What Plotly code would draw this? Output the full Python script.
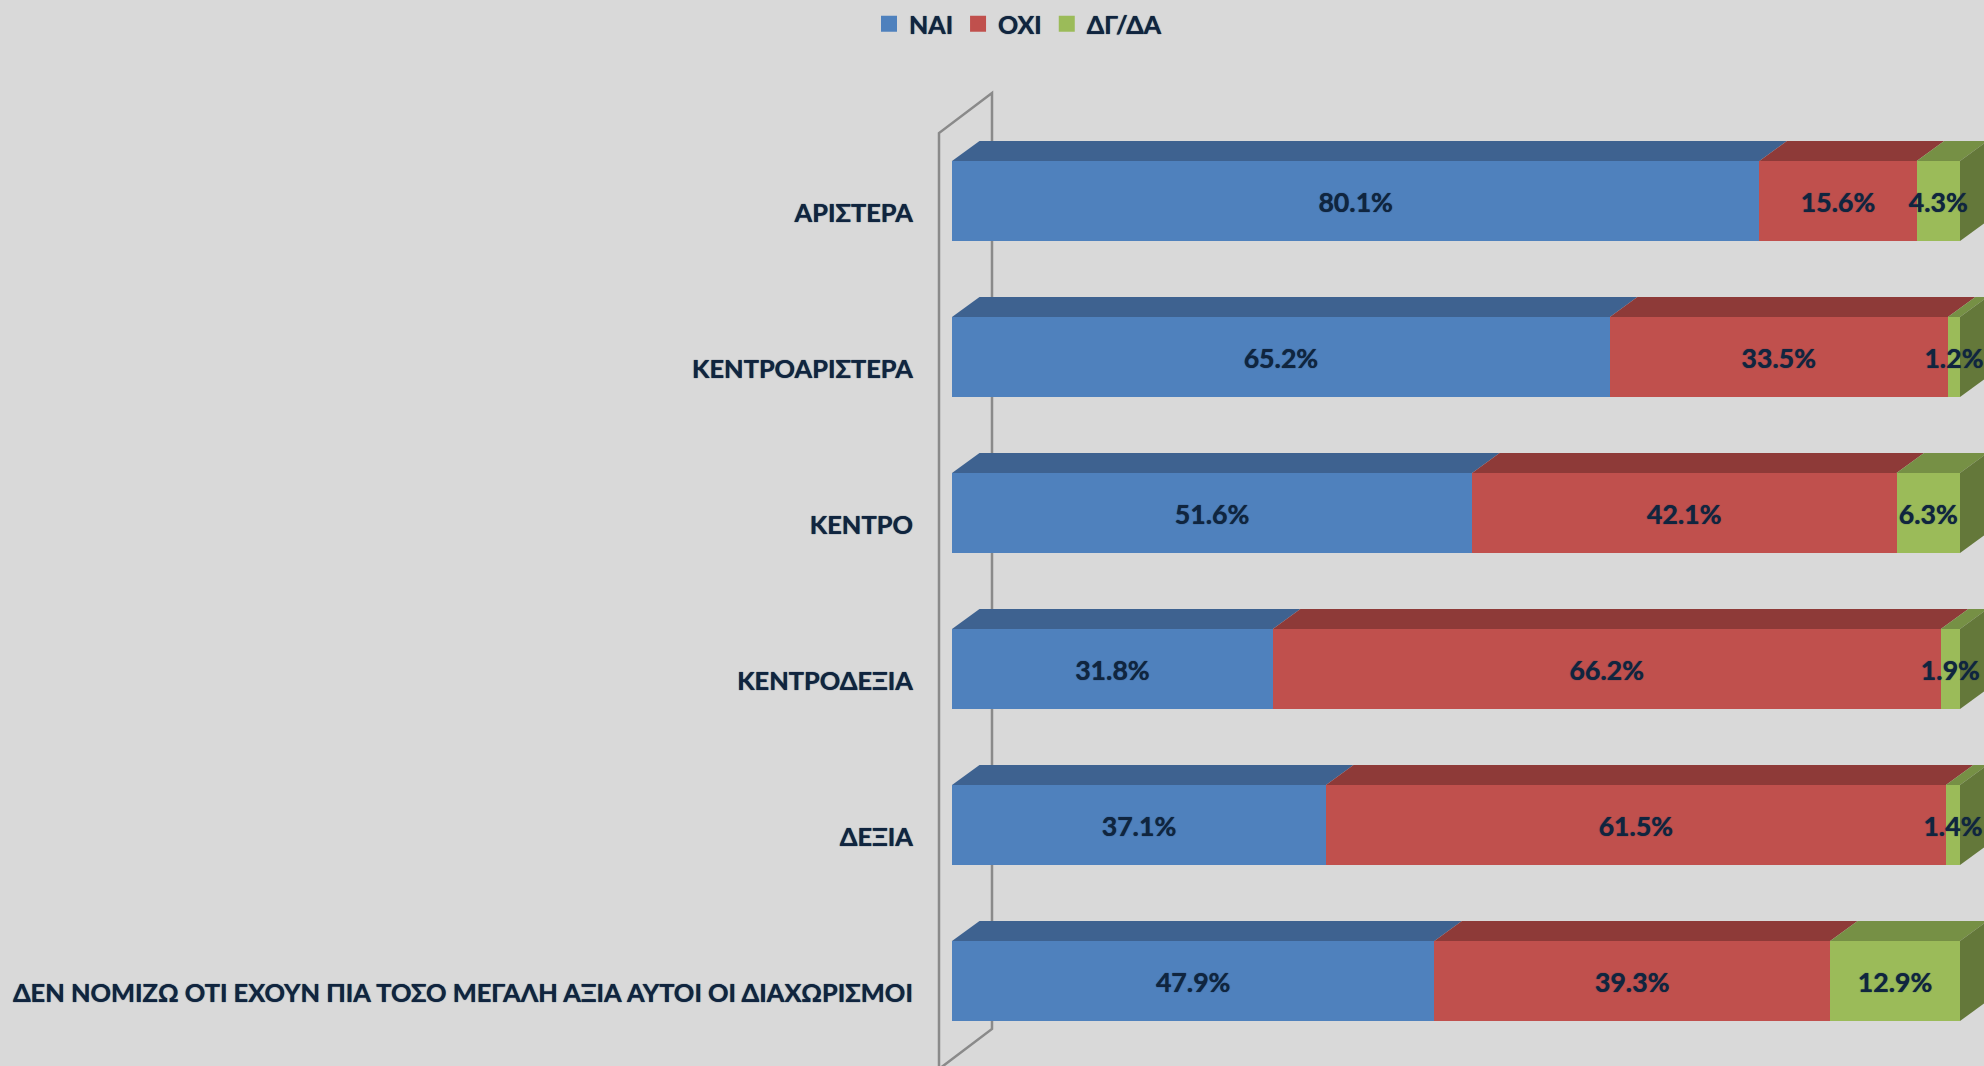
import plotly.graph_objects as go

categories = ["ΑΡΙΣΤΕΡΑ", "ΚΕΝΤΡΟΑΡΙΣΤΕΡΑ", "ΚΕΝΤΡΟ", "ΚΕΝΤΡΟΔΕΞΙΑ", "ΔΕΞΙΑ",
              "ΔΕΝ ΝΟΜΙΖΩ ΟΤΙ ΕΧΟΥΝ ΠΙΑ ΤΟΣΟ ΜΕΓΑΛΗ ΑΞΙΑ ΑΥΤΟΙ ΟΙ ΔΙΑΧΩΡΙΣΜΟΙ"]
nai = [80.1, 65.2, 51.6, 31.8, 37.1, 47.9]
oxi = [15.6, 33.5, 42.1, 66.2, 61.5, 39.3]
dgda = [4.3, 1.2, 6.3, 1.9, 1.4, 12.9]
series = [("ΝΑΙ", nai, "#4F81BD", "#3E6290"), ("ΟΧΙ", oxi, "#C0504D", "#8E3A38"),
          ("ΔΓ/ΔΑ", dgda, "#9BBB59", "#769045")]
side_colour = "#64783A"
ink = "#10253F"
bg = "#D9D9D9"
FONT = "Lato, 'Noto Sans', sans-serif"
GLOW = "0 0 1px #10253F"

W, H = 1984, 1066
PX_L, PX_R = 952, 1960       # 0 and 100 on the value axis
PITCH, FIRST = 156, 201      # category spacing and first centre
BAR = 80 / PITCH
DX, DY = 27.5 * 100 / (PX_R - PX_L), 20 / PITCH
L_EDGE = 930
xr = [(L_EDGE - PX_L) * 100 / (PX_R - PX_L), (W - PX_L) * 100 / (PX_R - PX_L)]
yr = [(H - FIRST) / PITCH, -FIRST / PITCH]
ypos = list(range(len(categories)))
totals = [a + b + c for a, b, c in zip(nai, oxi, dgda)]
LABEL_DROP = 4 / PITCH
TICK_DROP = 12 / PITCH

fig = go.Figure()
for name, vals, col, _ in series:
    fig.add_bar(y=ypos, x=vals, orientation="h", name=name, marker=dict(color=col, line=dict(width=0)),
                width=BAR, showlegend=False, hoverinfo="skip")

# top faces and end faces, worked out from the same values
cum = [0.0] * len(categories)
tx, ty, tt = [], [], []
for name, vals, col, dark in series:
    for i, v in enumerate(vals):
        x0 = cum[i]
        x1 = cum[i] + v * 100 / totals[i]
        top = i - BAR / 2
        fig.add_scatter(x=[x0, x1, x1 + DX, x0 + DX, x0], y=[top, top, top - DY, top - DY, top],
                        mode="lines", fill="toself", fillcolor=dark, line=dict(width=0),
                        showlegend=False, hoverinfo="skip")
        tx.append((x0 + x1) / 2)
        ty.append(i + LABEL_DROP)
        tt.append(f"{v:.1f}%")
        cum[i] = x1
for i in ypos:
    top, bot = i - BAR / 2, i + BAR / 2
    fig.add_scatter(x=[100, 100 + DX, 100 + DX, 100, 100], y=[top, top - DY, bot - DY, bot, top],
                    mode="lines", fill="toself", fillcolor=side_colour, line=dict(width=0),
                    showlegend=False, hoverinfo="skip")

fig.add_scatter(x=tx, y=ty, text=tt, mode="text", textposition="middle center",
                textfont=dict(family=FONT, size=26.67, color=ink, weight="bold", shadow=GLOW),
                showlegend=False, hoverinfo="skip", cliponaxis=False)

for name, vals, col, _ in series:
    fig.add_scatter(x=[None], y=[None], mode="markers", name=name,
                    marker=dict(symbol="square", size=17, color=col))

to_x = lambda p: (p - PX_L) * 100 / (PX_R - PX_L)
to_y = lambda p: (p - FIRST) / PITCH
wall_pts = [(939, 1069), (939, 133), (992, 93), (992, 1029), (939, 1069)]
path = "M " + " L ".join(f"{to_x(a):.3f} {to_y(b):.4f}" for a, b in wall_pts)
fig.add_shape(type="path", path=path, xref="x", yref="y", layer="below",
              line=dict(color="#8A8A8A", width=2.5))

fig.update_layout(
    width=W, height=H, autosize=False, barmode="stack", barnorm="percent",
    paper_bgcolor=bg, plot_bgcolor=bg,
    margin=dict(l=L_EDGE, r=0, t=0, b=0),
    font=dict(family=FONT, color=ink, size=25.4, weight="bold"),
    legend=dict(orientation="h", x=(869 - L_EDGE) / (W - L_EDGE), xanchor="left", y=1 - 1 / H, yanchor="top",
                traceorder="normal",
                font=dict(family=FONT, size=25, color=ink, weight="bold", shadow=GLOW),
                itemsizing="trace", itemclick=False, itemdoubleclick=False,
                bgcolor="rgba(0,0,0,0)"),
    xaxis=dict(range=xr, visible=False, fixedrange=True),
    yaxis=dict(range=yr, tickvals=[p + TICK_DROP for p in ypos], ticktext=categories, ticks="outside", ticklen=11,
               tickcolor="rgba(0,0,0,0)", showline=False, showgrid=False, zeroline=False,
               tickfont=dict(family=FONT, size=25.4, color=ink, weight="bold", shadow=GLOW), fixedrange=True),
    showlegend=True,
)
fig.write_html("out.html", config={"displayModeBar": False},
               post_script="document.body.style.margin='0';document.body.style.overflow='hidden';document.documentElement.style.background='#D9D9D9';")
